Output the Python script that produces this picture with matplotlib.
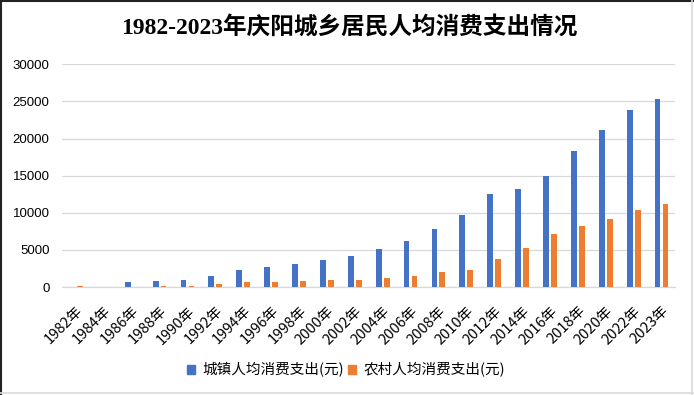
import numpy as np
import matplotlib
matplotlib.use("Agg")
import matplotlib.pyplot as plt
from matplotlib.lines import Line2D
from matplotlib.patches import Patch

# == Data ==
# Nan where no bar is drawn

years = ["1982年", "1984年", "1986年", "1988年", "1990年", "1992年", "1994年", "1996年",
         "1998年", "2000年", "2002年", "2004年", "2006年", "2008年", "2010年", "2012年",
         "2014年", "2016年", "2018年", "2020年", "2022年", "2023年"]
urban = [np.nan, np.nan, 630, 765, 900, 1440, 2250, 2750, 3155, 3695, 4235, 5180,
         6260, 7880, 9730, 12555, 13230, 14980, 18340, 21165, 23855, 25335]
rural = [200, np.nan, np.nan, 180, 180, 360, 700, 725, 860, 995, 995, 1265,
         1535, 2075, 2330, 3810, 5290, 7175, 8250, 9190, 10400, 11210]
yticks = [0, 5000, 10000, 15000, 20000, 25000, 30000]

title = "1982-2023年庆阳城乡居民人均消费支出情况"
urban_name = "城镇人均消费支出(元)"
rural_name = "农村人均消费支出(元)"

BLUE = "#4472C4"
ORANGE = "#ED7D31"
GRID = "#D9D9D9"

plt.rcParams['font.family'] = ['Noto Sans CJK SC', 'DejaVu Sans']

# == Figure ==

fig = plt.figure(figsize=(6.94, 3.95), dpi=100)
ax = fig.add_axes([0.0893, 0.2734, 0.9733 - 0.0893, 0.8372 - 0.2734])

x = np.arange(len(years))
w = 0.21
ax.bar(x - 0.143, urban, width=w, color=BLUE, zorder=3)
ax.bar(x + 0.143, rural, width=w, color=ORANGE, zorder=3)

ax.set_xlim(-0.5, len(years) - 0.5)
ax.set_ylim(0, 30000)
ax.set_yticks(yticks)
ax.set_yticklabels([str(v) for v in yticks], fontsize=9.5, family=['Liberation Sans'])
ax.yaxis.grid(True, color=GRID, linewidth=0.9, zorder=0)
ax.set_axisbelow(True)

ax.set_xticks(x)
ax.set_xticklabels(years, rotation=45, ha='right', va='top',
                   rotation_mode='anchor', fontsize=10.5)
ax.tick_params(axis='both', length=0)
ax.tick_params(axis='x', pad=12)
ax.tick_params(axis='y', pad=9)

for side in ['top', 'right', 'left']:
    ax.spines[side].set_visible(False)
ax.spines['bottom'].set_color(GRID)
ax.spines['bottom'].set_linewidth(0.9)

fig.text(0.503, 0.932, title, ha='center', va='center', fontsize=17,
         fontweight='bold', family=['Liberation Serif', 'Noto Sans CJK SC'])

handles = [Patch(color=BLUE), Patch(color=ORANGE)]
fig.legend(handles, [urban_name, rural_name], loc='center', bbox_to_anchor=(0.4985, 0.063),
           ncol=2, frameon=False, fontsize=10.5, handlelength=0.55, handleheight=0.55,
           handletextpad=0.5, columnspacing=0.3)

# == Border ==
W, H = 694, 395
def fline(x0, y0, x1, y1, color, lw):
    fig.add_artist(Line2D([x0 / W, x1 / W], [1 - y0 / H, 1 - y1 / H],
                          transform=fig.transFigure, color=color, linewidth=lw))

fline(0.5, 0, 0.5, H, "#222222", 1.5)
fline(0, 0.5, W, 0.5, "#222222", 1.5)
fline(692, 0, 692, H, GRID, 1.2)
fline(0, 393, W, 393, GRID, 1.2)

fig.savefig("out.png", dpi=100)
